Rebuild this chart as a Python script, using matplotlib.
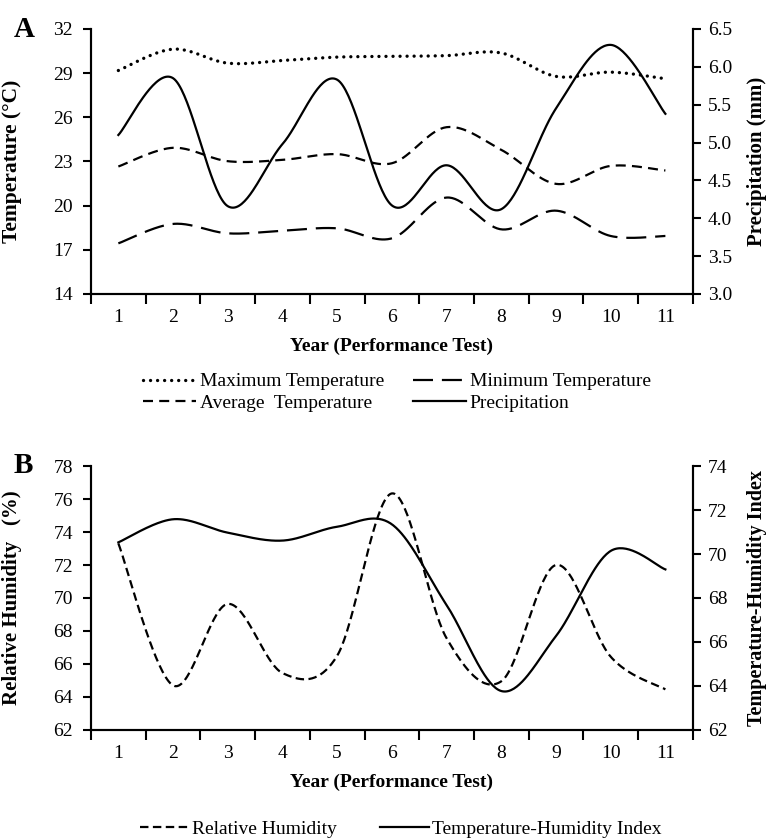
import numpy as np
import matplotlib.pyplot as plt

plt.rcParams['font.family'] = ['Liberation Serif', 'DejaVu Serif']

# 資料 (讀圖估計)
years = list(range(1, 12))
max_temp = [29.18, 30.63, 29.68, 29.86, 30.09, 30.14, 30.19, 30.37, 28.78, 29.07, 28.62]
min_temp = [17.44, 18.76, 18.12, 18.30, 18.46, 17.78, 20.55, 18.39, 19.66, 17.94, 17.94]
avg_temp = [22.66, 23.93, 23.02, 23.11, 23.50, 22.88, 25.33, 23.79, 21.48, 22.70, 22.39]
precip = [5.10, 5.85, 4.16, 4.98, 5.83, 4.17, 4.70, 4.12, 5.45, 6.29, 5.38]
rel_hum = [73.31, 64.70, 69.64, 65.45, 66.50, 76.34, 67.56, 64.95, 72.00, 66.44, 64.46]
thi = [70.53, 71.58, 70.97, 70.61, 71.24, 71.35, 67.68, 63.77, 66.27, 70.14, 69.30]


def smooth(x, y, n=40):
    # Excel 平滑線 (Catmull-Rom Bezier)
    xp = np.r_[x[0], x, x[-1]].astype(float)
    yp = np.r_[y[0], y, y[-1]].astype(float)
    t = np.linspace(0, 1, n)[1:]
    xs, ys = [float(x[0])], [float(y[0])]
    for k in range(len(x) - 1):
        for p, out in ((xp, xs), (yp, ys)):
            a, b = p[k + 1], p[k + 2]
            c1 = a + (p[k + 2] - p[k]) / 6
            c2 = b - (p[k + 3] - p[k + 1]) / 6
            seg = (1 - t) ** 3 * a + 3 * (1 - t) ** 2 * t * c1 + 3 * (1 - t) * t ** 2 * c2 + t ** 3 * b
            out.extend(seg)
    return np.array(xs), np.array(ys)


def setup(ax, ax2, ylim, yticks, ylim2, yticks2, fmt2):
    ax.set_xlim(0.5, 11.5)
    ax.set_xticks(np.arange(0.5, 12, 1), labels=[""] * 12)
    ax.set_xticks(years, labels=[str(v) for v in years], minor=True)
    ax.tick_params(axis="x", which="major", direction="out", length=7, width=1.5)
    ax.tick_params(axis="x", which="minor", length=0, pad=11, labelsize=14)
    ax.set_ylim(*ylim)
    ax.set_yticks(yticks)
    ax.tick_params(axis="y", direction="out", length=6, width=1.5, pad=7, labelsize=14)
    ax2.set_ylim(*ylim2)
    ax2.set_yticks(yticks2, labels=[fmt2 % v for v in yticks2])
    ax2.tick_params(axis="y", direction="out", length=6, width=1.5, pad=5, labelsize=14)
    for a in (ax, ax2):
        a.spines["top"].set_visible(False)
        for s in ("left", "right", "bottom"):
            a.spines[s].set_linewidth(1.5)
    ax.set_xlabel("Year (Performance Test)", fontsize=14, fontweight="bold", labelpad=8)


fig = plt.figure(figsize=(7.68, 8.4), dpi=100)

# 圖A
ax = fig.add_axes([0.1185, 0.650, 0.7835, 0.3155])
ax2 = ax.twinx()
l1, = ax.plot(*smooth(years, max_temp), color="black", lw=2.4,
              linestyle=(0, (0.01, 2.1)), dash_capstyle="round", label="Maximum Temperature")
l3, = ax.plot(*smooth(years, avg_temp), color="black", lw=1.6,
              linestyle=(0, (4.5, 2.8)), label="Average  Temperature")
l2, = ax.plot(*smooth(years, min_temp), color="black", lw=1.6,
              linestyle=(0, (9, 4)), label="Minimum Temperature")
l4, = ax2.plot(*smooth(years, precip), color="black", lw=1.6,
               linestyle="-", label="Precipitation")
setup(ax, ax2, (14, 32), range(14, 33, 3), (3.0, 6.5), np.arange(3.0, 6.51, 0.5), "%.1f")
ax.set_ylabel("Temperature (°C)", fontsize=15.5, fontweight="bold")
ax.yaxis.set_label_coords(-0.115, 0.5)
ax2.set_ylabel("Precipitation (mm)", fontsize=15, fontweight="bold")
ax2.yaxis.set_label_coords(1.09, 0.5)
fig.legend([l1, l3, l2, l4], [h.get_label() for h in (l1, l3, l2, l4)],
           ncol=2, loc="center", bbox_to_anchor=(0.517, 0.533), frameon=False,
           fontsize=14, handlelength=2.7, handletextpad=0.2, columnspacing=1.5,
           labelspacing=0.2, borderpad=0)
fig.text(0.018, 0.965, "A", fontsize=21, fontweight="bold", va="center")

# 圖B
bx = fig.add_axes([0.1185, 0.131, 0.7835, 0.3142])
bx2 = bx.twinx()
m1, = bx.plot(*smooth(years, rel_hum), color="black", lw=1.6,
              linestyle=(0, (3.8, 2)), label="Relative Humidity")
m2, = bx2.plot(*smooth(years, thi), color="black", lw=1.6,
               linestyle="-", label="Temperature-Humidity Index")
setup(bx, bx2, (62, 78), range(62, 79, 2), (62, 74), range(62, 75, 2), "%d")
bx.set_ylabel("Relative Humidity   (%)", fontsize=15, fontweight="bold")
bx.yaxis.set_label_coords(-0.115, 0.5)
bx2.set_ylabel("Temperature-Humidity Index", fontsize=14.5, fontweight="bold")
bx2.yaxis.set_label_coords(1.09, 0.5)
fig.legend([m1, m2], [m1.get_label(), m2.get_label()], ncol=2, loc="center",
           bbox_to_anchor=(0.522, 0.013), frameon=False, fontsize=14,
           handlelength=2.5, handletextpad=0.2, columnspacing=2.2, borderpad=0)
fig.text(0.018, 0.446, "B", fontsize=21, fontweight="bold", va="center")

fig.savefig("out.png", dpi=100)
